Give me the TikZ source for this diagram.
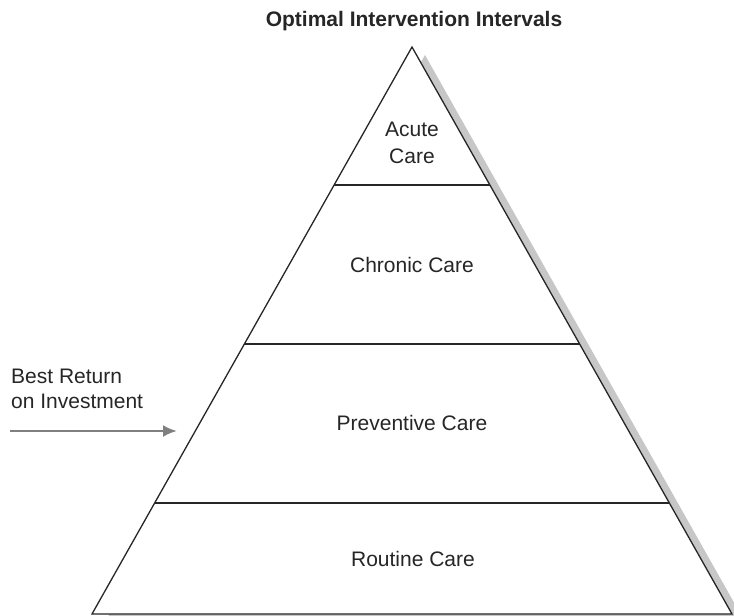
\documentclass[tikz,border=0pt]{standalone}
\usepackage{fontspec}
\setmainfont{Liberation Sans}
\usetikzlibrary{calc, arrows.meta}

\begin{document}
\begin{tikzpicture}[x=1pt, y=-1pt,
                edge/.style={draw=black!85, line width=1.3pt, line join=miter},
                level/.style={font=\fontsize{21}{27}\selectfont, align=center, inner sep=0pt, text=black!85},
                shade/.style={fill=black!22, draw=none},
                pointer/.style={draw=black!50, line width=2.6pt,
                  -{Latex[length=14pt, width=12pt]}}
                ]
                \useasboundingbox (0,0) rectangle (734,616);
                \clip (0,0) rectangle (734,616);
                \coordinate (top) at (412,47);
                \coordinate (bl) at (92,614);
                \coordinate (br) at (732,614);
                % drop shadow
                \path[shade] ($(top)+(13,8)$) -- ($(bl)+(13,8)$) -- ($(br)+(13,8)$) -- cycle;
                \filldraw[edge, fill=white] (top) -- (bl) -- (br) -- cycle;
                % the four layers
                \coordinate (l1) at ($(bl)!0.7566!(top)$);
                \coordinate (r1) at ($(br)!0.7566!(top)$);
                \coordinate (l2) at ($(bl)!0.4762!(top)$);
                \coordinate (r2) at ($(br)!0.4762!(top)$);
                \coordinate (l3) at ($(bl)!0.1958!(top)$);
                \coordinate (r3) at ($(br)!0.1958!(top)$);
                \draw[edge] (l1) -- (r1);
                \draw[edge] (l2) -- (r2);
                \draw[edge] (l3) -- (r3);
                \node[level] (acute) at (412,143) {Acute\\Care};
                \node[level, anchor=base] (chronic) at (412,272.7) {Chronic Care};
                \node[level, anchor=base] (preventive) at (412,430.7) {Preventive Care};
                \node[level, anchor=base] (routine) at (413,566) {Routine Care};
                \node[level, anchor=base, font=\fontsize{21}{27}\selectfont\bfseries] (title) at (414,26) {Optimal Intervention Intervals};
                % arrow on the left
                \node[level, align=left, anchor=base west, font=\fontsize{21}{25}\selectfont] (roi) at (11,408) {Best Return\\on Investment};
                \coordinate (tail) at (10,431);
                \coordinate (tip) at (177,431);
                \draw[pointer] (tail) -- (tip);
\end{tikzpicture}
\end{document}
